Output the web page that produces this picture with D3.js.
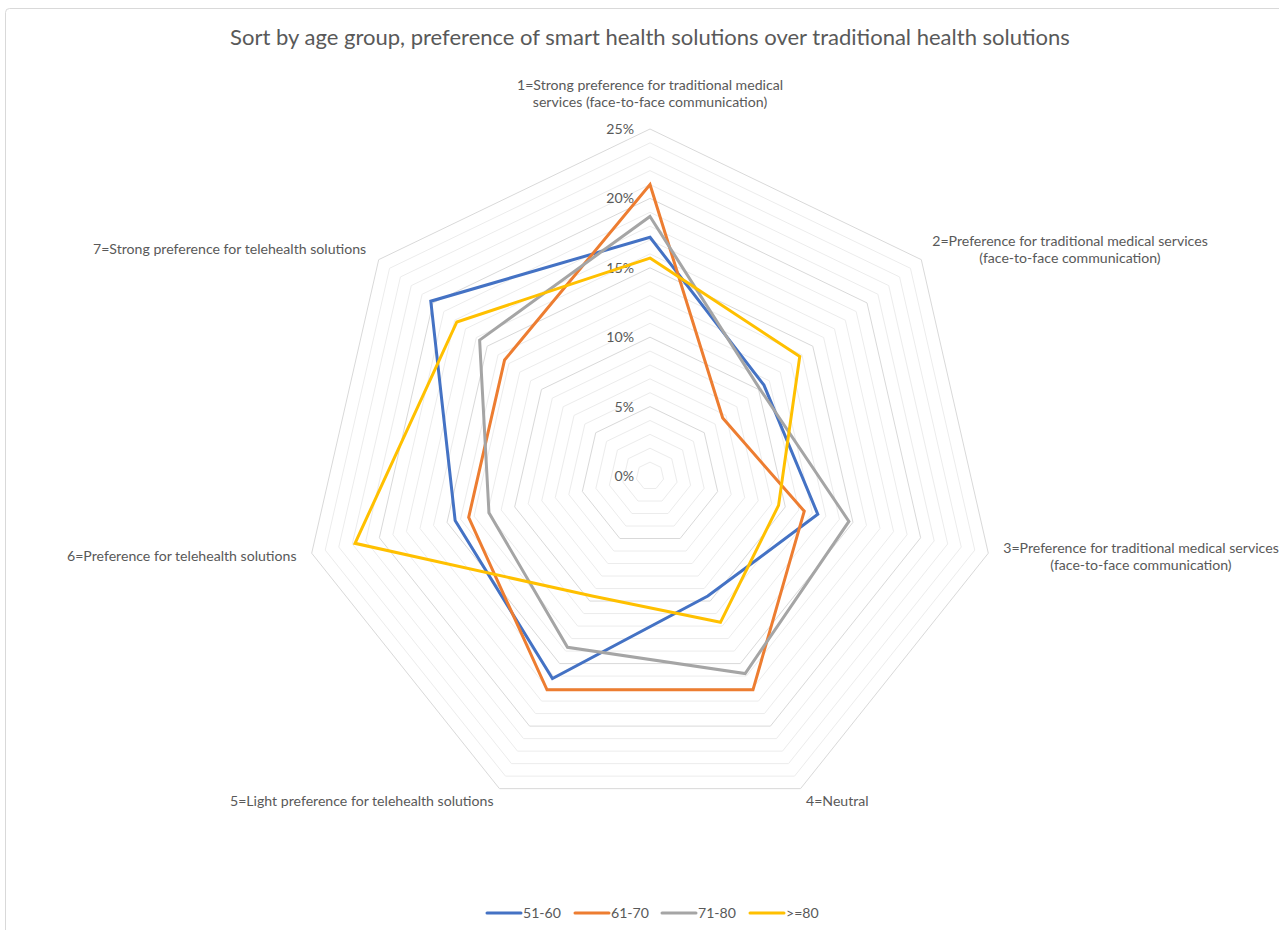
<!DOCTYPE html>
<html>
<head>
<meta charset="utf-8">
<script src="https://cdn.jsdelivr.net/npm/d3@7"></script>
<style>
  html, body { margin: 0; padding: 0; background: #fff; }
  svg { display: block; font-family: Lato, "Open Sans", sans-serif; }
</style>
</head>
<body>
<svg id="chart" width="1279" height="930"></svg>
<script>
// Response categories (radar axes), clockwise from the top
const categories = [
  ["1=Strong preference for traditional medical", "services (face-to-face communication)"],
  ["2=Preference for traditional medical services", "(face-to-face communication)"],
  ["3=Preference for traditional medical services", "(face-to-face communication)"],
  ["4=Neutral"],
  ["5=Light preference for telehealth solutions"],
  ["6=Preference for telehealth solutions"],
  ["7=Strong preference for telehealth solutions"]
];

// Share of respondents per category (%), by age group
const seriesNames = ["51-60", "61-70", "71-80", ">=80"];
const age51to60 = [17.2, 10.5, 12.4, 9.6, 16.2, 14.4, 20.2];
const age61to70 = [21.0, 6.7, 11.4, 17.1, 17.1, 13.4, 13.4];
const age71to80 = [18.7, 10.1, 14.7, 15.8, 13.7, 11.9, 15.7];
const age80plus = [15.7, 13.8, 9.5, 11.7, 9.6, 21.8, 17.8];
const seriesValues = [age51to60, age61to70, age71to80, age80plus];
const seriesColors = ["#4472C4", "#ED7D31", "#A5A5A5", "#FFC000"];

// Value axis
const tickValues = [0, 5, 10, 15, 20, 25];
const tickLabels = ["0%", "5%", "10%", "15%", "20%", "25%"];
const minorStep = 1;

const title = "Sort by age group, preference of smart health solutions over traditional health solutions";

const svg = d3.select("#chart");
const cx = 650, cy = 476, R = 347;
const n = categories.length;
const textColor = "#595959";

// Outer chart frame
svg.append("rect")
  .attr("x", 5.5).attr("y", 8.5)
  .attr("width", 1300).attr("height", 960)
  .attr("rx", 4)
  .attr("fill", "none")
  .attr("stroke", "#d9d9d9");

// Scale text to a desired rendered width
function fitWidth(sel, target) {
  sel.each(function () {
    const w = this.getComputedTextLength();
    const fs = parseFloat(d3.select(this).attr("font-size"));
    d3.select(this).attr("font-size", (fs * target / w).toFixed(2));
  });
}

const r = d3.scaleLinear().domain([0, 25]).range([0, R]);
const angle = d3.scaleLinear().domain([0, n]).range([0, 2 * Math.PI]);

const g = svg.append("g").attr("transform", `translate(${cx},${cy})`);

// Gridlines: minor every 1%, major every 5%
const ringValues = d3.range(minorStep, 25 + 0.001, minorStep);
const ring = d3.lineRadial()
  .angle((d, i) => angle(i))
  .radius(d => r(d))
  .curve(d3.curveLinearClosed);

g.append("g").selectAll("path")
  .data(ringValues.filter(v => v % 5 !== 0))
  .join("path")
  .attr("d", v => ring(d3.range(n).map(() => v)))
  .attr("fill", "none")
  .attr("stroke", "#ececec")
  .attr("stroke-width", 1);

g.append("g").selectAll("path")
  .data(tickValues.filter(v => v > 0))
  .join("path")
  .attr("d", v => ring(d3.range(n).map(() => v)))
  .attr("fill", "none")
  .attr("stroke", "#d9d9d9")
  .attr("stroke-width", 1);

// Value tick labels along the top axis
g.append("g").selectAll("text")
  .data(tickValues)
  .join("text")
  .attr("x", -16)
  .attr("y", v => -r(v))
  .attr("dy", "0.35em")
  .attr("text-anchor", "end")
  .attr("font-size", 13)
  .attr("fill", textColor)
  .text((v, i) => tickLabels[i]);

// Series polygons
const line = d3.lineRadial()
  .angle((d, i) => angle(i))
  .radius(d => r(d))
  .curve(d3.curveLinearClosed);

g.append("g").selectAll("path")
  .data(seriesValues)
  .join("path")
  .attr("d", d => line(d))
  .attr("fill", "none")
  .attr("stroke", (d, i) => seriesColors[i])
  .attr("stroke-width", 3)
  .attr("stroke-linejoin", "miter");

// Category labels
const labelPos = [
  { x: 650, y: 85, anchor: "middle", w: 266 },
  { x: 1070, y: 241, anchor: "middle", w: 276 },
  { x: 1141, y: 548, anchor: "middle", w: 276 },
  { x: 806, y: 801, anchor: "start", w: 63 },
  { x: 230, y: 801, anchor: "start", w: 250 },
  { x: 67, y: 556, anchor: "start", w: 229 },
  { x: 93, y: 249, anchor: "start", w: 273 }
];
let labelFont = 13;
categories.forEach((lines, i) => {
  const p = labelPos[i];
  const t = svg.append("text")
    .attr("x", p.x).attr("y", p.y)
    .attr("dy", "0.35em")
    .attr("text-anchor", p.anchor)
    .attr("font-size", 13)
    .attr("fill", textColor)
    .text(lines[0]);
  if (i === 0) {
    fitWidth(t, p.w);
    labelFont = +t.attr("font-size");
  } else {
    t.attr("font-size", labelFont);
  }
  if (lines[1]) {
    svg.append("text")
      .attr("x", p.x).attr("y", p.y + 17.5)
      .attr("dy", "0.35em")
      .attr("text-anchor", "middle")
      .attr("font-size", labelFont)
      .attr("fill", textColor)
      .text(lines[1]);
  }
});
svg.selectAll("g text").attr("font-size", labelFont);

// Title
const titleText = svg.append("text")
  .attr("x", 650).attr("y", 37)
  .attr("dy", "0.35em")
  .attr("text-anchor", "middle")
  .attr("font-size", 19)
  .attr("fill", textColor)
  .text(title);
fitWidth(titleText, 840);

// Legend
const legendX = [487, 575, 662, 750];
const legend = svg.append("g");
seriesNames.forEach((name, i) => {
  legend.append("line")
    .attr("x1", legendX[i]).attr("x2", legendX[i] + 34)
    .attr("y1", 913).attr("y2", 913)
    .attr("stroke", seriesColors[i])
    .attr("stroke-width", 3)
    .attr("stroke-linecap", "round");
  legend.append("text")
    .attr("x", legendX[i] + 36).attr("y", 913)
    .attr("dy", "0.35em")
    .attr("font-size", labelFont)
    .attr("fill", textColor)
    .text(name);
});
</script>
</body>
</html>
